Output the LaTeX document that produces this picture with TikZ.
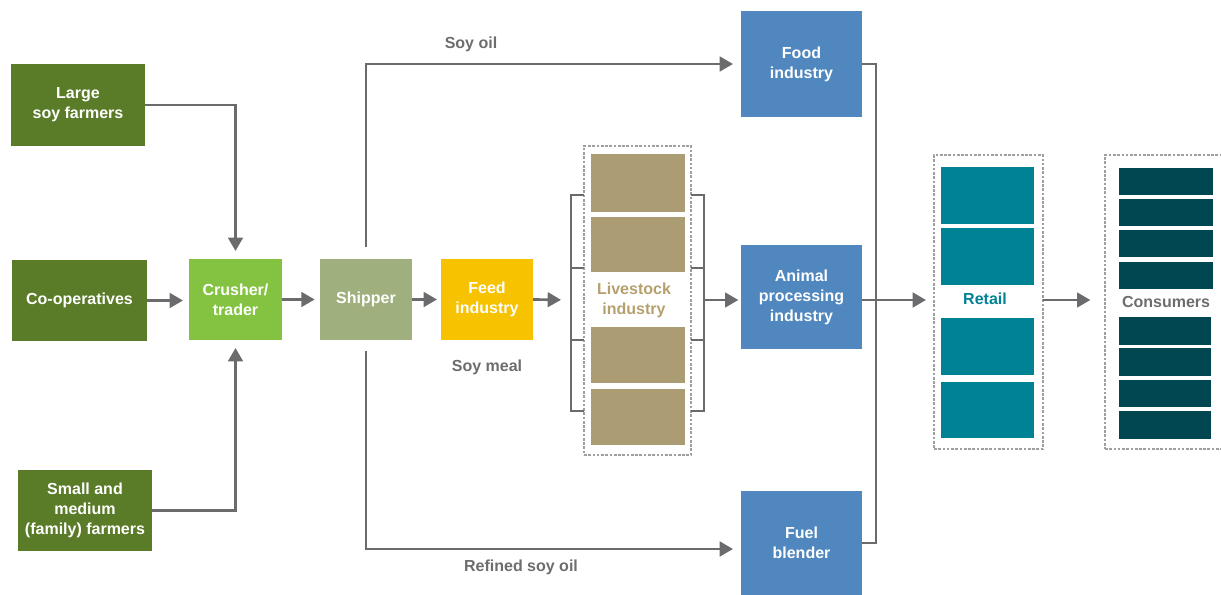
\documentclass[tikz,border=0pt]{standalone}
\usepackage{fontspec}
\setmainfont{Liberation Sans}
\usetikzlibrary{arrows.meta}
\definecolor{dg}{HTML}{5A7B27}
\definecolor{lgreen}{HTML}{84C341}
\definecolor{sage}{HTML}{9FB07E}
\definecolor{yel}{HTML}{F7C200}
\definecolor{lvbox}{HTML}{AB9C73}
\definecolor{lvtext}{HTML}{B5A06E}
\definecolor{blu}{HTML}{5087BE}
\definecolor{teal}{HTML}{008295}
\definecolor{dteal}{HTML}{014752}
\definecolor{lg}{HTML}{6B6B6D}
\definecolor{txtgray}{HTML}{6D6D6D}
\newcommand\mybox[7]{\node[box, fill=#6, minimum width={(#4-#2)*0.75pt}, minimum height={(#5-#3)*0.75pt}] (#1) at ({(#2+#4)/2},{(#3+#5)/2}) {#7};}
\newcommand\myframe[5]{\node[frame, minimum width={(#4-#2)*0.75pt}, minimum height={(#5-#3)*0.75pt}] (#1) at ({(#2+#4)/2},{(#3+#5)/2}) {};}
\begin{document}
\begin{tikzpicture}[x=0.75pt,y=-0.75pt,
  font=\bfseries\fontsize{12}{15}\selectfont,
  box/.style={inner sep=0pt, outer sep=0pt, align=center, text=white, draw=none},
  frame/.style={inner sep=0pt, outer sep=0pt, draw=gray!75, dash pattern=on 2pt off 1.2pt, line width=0.8pt},
  arr/.style={draw=lg, line width=2pt, -{Triangle[length=10pt,width=11pt]}},
  ln/.style={draw=lg, line width=2pt},
  lbl/.style={text=txtgray, inner sep=0pt}]
\useasboundingbox (0,0) rectangle (1221,595);
% sources
\mybox{large}{11}{64}{145}{146}{dg}{Large\\soy farmers}
\mybox{coop}{12}{260}{147}{341}{dg}{Co-operatives}
\mybox{small}{18}{470}{152}{551}{dg}{Small and\\medium\\(family) farmers}
\mybox{crusher}{189}{259}{282}{340}{lgreen}{Crusher/\\trader}
\mybox{shipper}{320}{259}{412}{340}{sage}{Shipper}
\mybox{feed}{441}{259}{533}{340}{yel}{Feed\\industry}
\mybox{food}{741}{11}{862}{117}{blu}{Food\\industry}
\mybox{animal}{741}{245}{862}{349}{blu}{Animal\\processing\\industry}
\mybox{fuel}{741}{491}{862}{595}{blu}{Fuel\\blender}
% livestock
\myframe{lv}{584}{146}{691}{455}
\mybox{l1}{591}{154}{685}{212}{lvbox}{}
\mybox{l2}{591}{217}{685}{272}{lvbox}{}
\mybox{l3}{591}{327}{685}{383}{lvbox}{}
\mybox{l4}{591}{389}{685}{445}{lvbox}{}
\node[box, text=lvtext] (lvt) at (634,300) {Livestock\\industry};
% retail
\myframe{rt}{934}{155}{1043}{449}
\mybox{r1}{941}{167}{1034}{224}{teal}{}
\mybox{r2}{941}{228}{1034}{285}{teal}{}
\mybox{r3}{941}{318}{1034}{375}{teal}{}
\mybox{r4}{941}{382}{1034}{438}{teal}{}
\node[box, text=teal] (rtt) at (985,299) {Retail};
% consumers
\myframe{cs}{1105}{155}{1230}{449}
\mybox{c1}{1119}{168}{1213}{195}{dteal}{}
\mybox{c2}{1119}{199}{1213}{226}{dteal}{}
\mybox{c3}{1119}{230}{1213}{257}{dteal}{}
\mybox{c4}{1119}{262}{1213}{289}{dteal}{}
\mybox{c5}{1119}{317}{1211}{345}{dteal}{}
\mybox{c6}{1119}{348}{1211}{376}{dteal}{}
\mybox{c7}{1119}{380}{1211}{407}{dteal}{}
\mybox{c8}{1119}{411}{1211}{439}{dteal}{}
\node[box, text=txtgray] (cst) at (1166,302) {Consumers};
% labels
\node[lbl] (soyoil) at (471,44) {Soy oil};
\node[lbl] (soymeal) at (487,367) {Soy meal};
\node[lbl] (refined) at (521,567) {Refined soy oil};
% connectors
\draw[arr, shorten >=6pt] (large.east) -| (crusher.north);
\draw[arr, shorten >=6pt] (small.east) -| (crusher.south);
\draw[arr, shorten >=4.5pt] (coop.east) -- (coop.east -| crusher.west);
\draw[arr, shorten >=4pt] (crusher.east) -- (shipper.west);
\draw[arr, shorten >=3pt] (shipper.east) -- (feed.west);
\draw[arr, shorten >=6pt, shorten <=9pt] (shipper.north) |- (food.west);
\draw[arr, shorten >=6pt, shorten <=8pt] (shipper.south) |- ([yshift=-4.5pt]fuel.west);
% left bracket
\coordinate (lbt) at (571,195);
\coordinate (lb1) at (571,268);
\coordinate (lbc) at (571,300);
\coordinate (lb2) at (571,340);
\coordinate (lbb) at (571,411);
\draw[arr, shorten >=7.5pt] (feed.east) -- (lbc);
\draw[ln] (lbt -| lv.west) -- (lbt) -- (lbb) -- (lbb -| lv.west);
\draw[ln] (lb1) -- (lb1 -| lv.west);
\draw[ln] (lb2) -- (lb2 -| lv.west);
% right bracket
\coordinate (rbt) at (704,195);
\coordinate (rb1) at (704,268);
\coordinate (rbc) at (704,300);
\coordinate (rb2) at (704,340);
\coordinate (rbb) at (704,411);
\draw[ln] (rbt -| lv.east) -- (rbt) -- (rbb) -- (rbb -| lv.east);
\draw[ln] (rb1) -- (rb1 -| lv.east);
\draw[ln] (rb2) -- (rb2 -| lv.east);
\draw[arr, shorten >=2pt] (rbc) -- (rbc -| animal.west);
% right collector
\coordinate (fr) at (876,300);
\draw[ln] (food.east) -| (fr) |- (fuel.east);
\draw[arr, shorten >=6pt] (animal.east |- fr) -- (rt.west |- fr);
\draw[arr, shorten >=11pt] (rt.east |- fr) -- (cs.west |- fr);
\end{tikzpicture}
\end{document}
